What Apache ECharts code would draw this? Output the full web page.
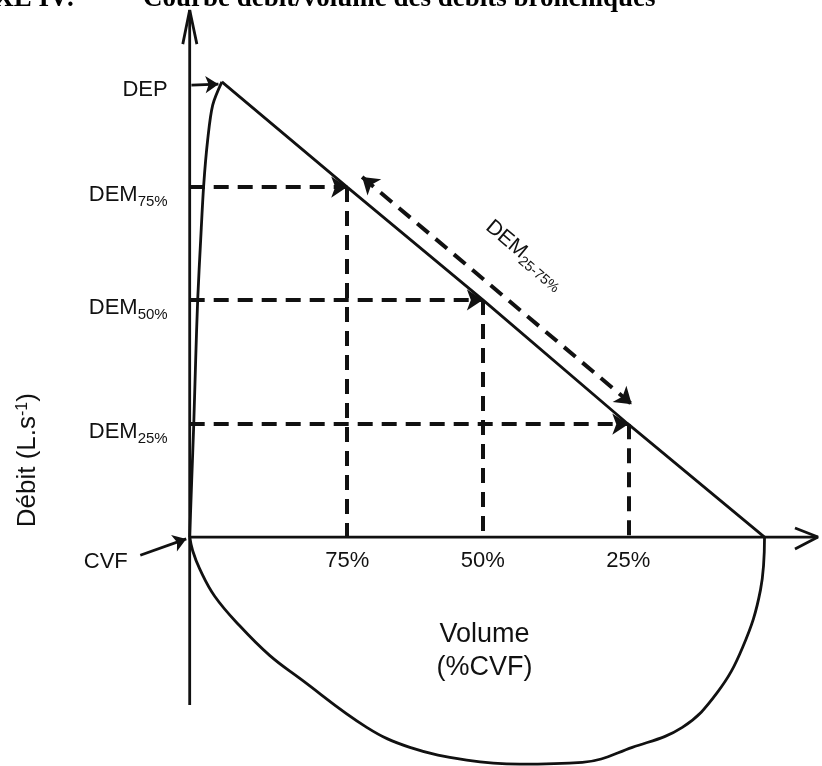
<!DOCTYPE html>
<html>
<head>
<meta charset="utf-8">
<script src="https://cdn.jsdelivr.net/npm/echarts@6/dist/echarts.min.js"></script>
<style>
html, body { margin: 0; padding: 0; background: #fff; }
#chart { width: 822px; height: 766px; }
</style>
</head>
<body>
<div id="chart"></div>
<script>
// valeurs (volume expiré en % CVF, débit en unités arbitraires)
const volumeTicks = ['75%', '50%', '25%']
const pointVolume = [27.4, 51.0, 76.3]
const pointFlow = [7.69, 5.21, 2.48]
const flowTickNames = ['DEP', 'DEM', 'DEM', 'DEM']
const flowTickSubs = ['', '75%', '50%', '25%']
const peak = [5.6, 10]
const cvfEnd = [100, 0]

// montée expiratoire jusqu'au DEP
const riseCurve = [
	[0, 0], [0.35, 1.25], [0.7, 2.46], [1.04, 3.89], [1.39, 5.21],
	[1.91, 6.53], [2.44, 7.74], [3.13, 8.73], [4.0, 9.49], [5.6, 10],
]
// boucle inspiratoire
const inspCurve = [
	[0, 0], [0.52, -0.3], [1.74, -0.7], [4.35, -1.3], [8.7, -1.95],
	[13.9, -2.6], [19.1, -3.1], [30.8, -4.18], [38.3, -4.62], [48.2, -4.9],
	[57.4, -4.99], [68.3, -4.95], [77.0, -4.62], [85.7, -4.18], [91.7, -3.43],
	[96.2, -2.42], [99.3, -1.16], [100, 0],
]
// flèche DEM25-75% (parallèle à la pente)
const dem2575 = [[30.0, 7.91], [76.9, 2.92]]

const font = 'Liberation Sans, Arial, sans-serif'
const ink = '#111'

const chart = echarts.init(document.getElementById('chart'))

const poly = (data, extra) => Object.assign({
	type: 'line',
	data: data,
	showSymbol: false,
	symbol: 'none',
	silent: true,
	clip: false,
	lineStyle: { color: ink, width: 2.8 },
	z: 3,
}, extra || {})

const textMarks = (items, label) => ({
	type: 'scatter',
	symbolSize: 0,
	silent: true,
	clip: false,
	itemStyle: { opacity: 1 },
	label: Object.assign({
		show: true,
		position: 'inside',
		color: ink,
		fontFamily: font,
		fontSize: 22,
	}, label),
	data: items.map((it) => ({ value: it[0], label: { formatter: it[1] } })),
	z: 5,
})

const dashed = { color: ink, width: 4, type: [15, 9], opacity: 1 }

const hArrows = pointVolume.map((v, i) => ({ coords: [[0, pointFlow[i]], [v, pointFlow[i]]] }))
const vDrops = pointVolume.map((v, i) => ({ coords: [[v, pointFlow[i]], [v, 0]] }))
const flowTickValues = [peak[1]].concat(pointFlow)
const flowTickText = flowTickNames.map((n, i) => flowTickSubs[i] ? n + '{s|' + flowTickSubs[i] + '}' : n)

const option = {
	animation: false,
	title: [
		{
			text: 'ANNEXE IV:',
			right: 747,
			top: -14,
			padding: 0,
			textStyle: { fontFamily: 'Liberation Serif, serif', fontWeight: 'bold', fontSize: 27, color: '#000' },
		},
		{
			text: 'Courbe débit/volume des débits bronchiques',
			left: 143,
			top: -14,
			padding: 0,
			textStyle: { fontFamily: 'Liberation Serif, serif', fontWeight: 'bold', fontSize: 27, color: '#000' },
		},
	],
	grid: { left: 0, right: 0, top: 0, bottom: 0, containLabel: false, outerBoundsMode: 'none' },
	xAxis: { type: 'value', min: -33, max: 110, show: false },
	yAxis: { type: 'value', min: -5.03, max: 11.8, show: false },
	series: [
		// axes
		poly([[0, -3.69], [0, 11.58]]),
		poly([[-1.2, 10.83], [0, 11.58], [1.25, 10.83]]),
		poly([[0, 0], [109.3, 0]]),
		poly([[105.3, 0.2], [109.3, 0], [105.3, -0.26]]),
		// courbe débit-volume
		poly(riseCurve, { smooth: 0.3 }),
		poly([peak].concat(pointVolume.map((v, i) => [v, pointFlow[i]]), [cvfEnd])),
		poly(inspCurve, { smooth: 0.4 }),
		// repères en pointillés
		{
			type: 'lines',
			coordinateSystem: 'cartesian2d',
			silent: true,
			symbol: ['none', 'arrow'],
			symbolSize: 16,
			lineStyle: dashed,
			data: hArrows,
			z: 4,
		},
		{
			type: 'lines',
			coordinateSystem: 'cartesian2d',
			silent: true,
			symbol: ['none', 'none'],
			lineStyle: dashed,
			data: vDrops,
			z: 4,
		},
		{
			type: 'lines',
			coordinateSystem: 'cartesian2d',
			silent: true,
			symbol: ['arrow', 'arrow'],
			symbolSize: 16,
			lineStyle: dashed,
			data: [{ coords: dem2575 }],
			z: 4,
		},
		// flèches DEP et CVF
		{
			type: 'lines',
			coordinateSystem: 'cartesian2d',
			silent: true,
			symbol: ['none', 'arrow'],
			symbolSize: 13,
			lineStyle: { color: ink, width: 2.8, opacity: 1 },
			data: [
				{ coords: [[0.3, 9.93], [5.0, 9.95]] },
				{ coords: [[-8.6, -0.4], [-0.6, -0.04]] },
			],
			z: 4,
		},
		// graduations
		textMarks(pointVolume.map((v, i) => [[v, 0], volumeTicks[i]]), { offset: [0, 24] }),
		textMarks(flowTickValues.map((v, i) => [[0, v], flowTickText[i]]), {
			position: 'left',
			distance: 22,
			offset: [0, 8],
			rich: { s: { fontSize: 15, fontFamily: font, color: ink, padding: [14, 0, 0, 0] } },
		}),
		// textes
		textMarks([[[-14.6, -0.55], 'CVF']]),
		textMarks([[[58.3, 6.2], 'DEM{s|25-75%}']], {
			rotate: -40,
			fontSize: 21,
			rich: { s: { fontSize: 14, fontFamily: font, color: ink, padding: [13, 0, 0, 0] } },
		}),
		textMarks([[[51.3, -2.51], 'Volume\n(%CVF)']], { fontSize: 27, lineHeight: 33 }),
		textMarks([[[-28.1, 1.69], 'Débit (L.s{p|-1})']], {
			rotate: 90,
			fontSize: 26,
			rich: { p: { fontSize: 16, fontFamily: font, color: ink, padding: [0, 0, 12, 0] } },
		}),
	],
}

chart.setOption(option)
</script>
</body>
</html>
